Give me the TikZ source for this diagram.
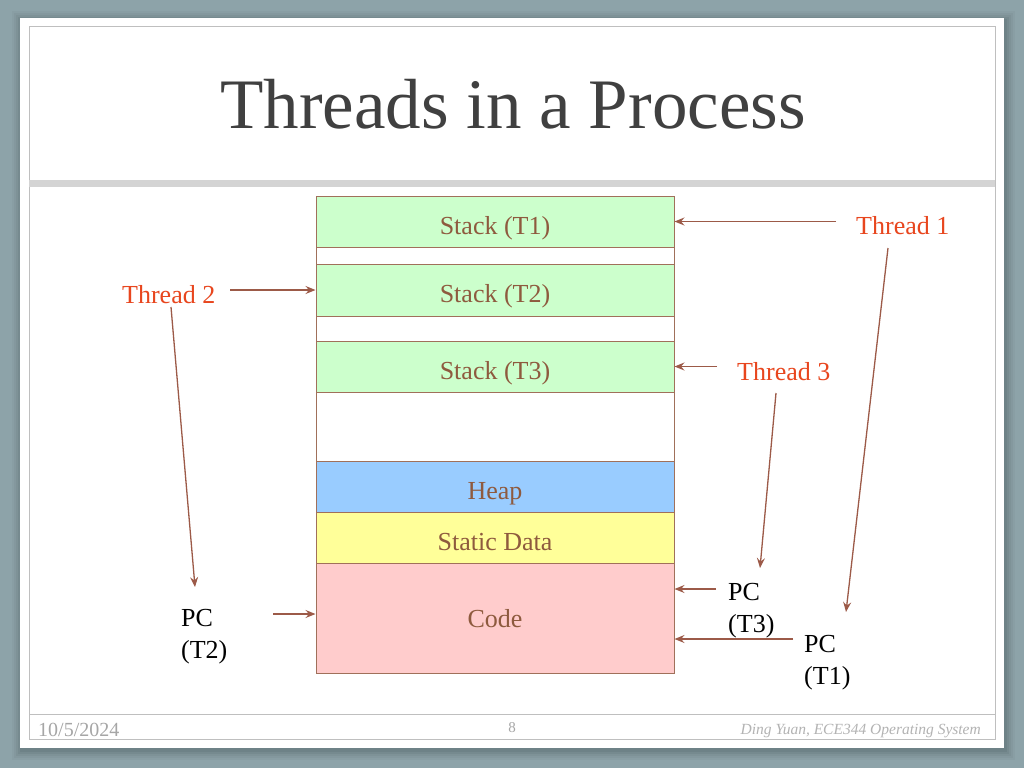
\documentclass[tikz,border=0pt]{standalone}
\usepackage{fontspec}
\setmainfont{Liberation Serif}
\usetikzlibrary{arrows.meta}
\definecolor{bgc}{HTML}{8DA3A9}
\definecolor{shadowc}{HTML}{4A5E63}
\definecolor{framec}{HTML}{BFBFBF}
\definecolor{barc}{HTML}{D4D4D4}
\definecolor{titlec}{HTML}{404040}
\definecolor{boxc}{HTML}{A0705A}
\definecolor{segtext}{HTML}{8E5A3E}
\definecolor{arrc}{HTML}{9C5A48}
\definecolor{threadc}{HTML}{E8461E}
\definecolor{footc}{HTML}{A6A6A6}
\definecolor{stackc}{HTML}{CCFFCC}
\definecolor{heapc}{HTML}{99CCFF}
\definecolor{statc}{HTML}{FFFF99}
\definecolor{codec}{HTML}{FFCCCC}
\tikzset{
  seg/.style={draw=boxc, line width=1pt, minimum width=358pt, inner sep=0pt,
    text=segtext, font=\fontsize{26}{30}\selectfont, text height=31pt, text depth=6pt},
  gapbox/.style={draw=boxc, line width=1pt, fill=white, minimum width=358pt, inner sep=0pt},
  thr/.style={font=\fontsize{26}{32}\selectfont, inner sep=0pt, anchor=base west, text=threadc},
  pclab/.style={font=\fontsize{26}{32}\selectfont, inner sep=0pt, anchor=north west, align=left, text=black},
  arr/.style={draw=arrc, line width=1.3pt, -{Stealth[length=10pt,width=8pt,inset=3.5pt]}},
}
\begin{document}
\begin{tikzpicture}[x=1pt,y=-1pt]
\useasboundingbox (0,0) rectangle (1024,768);
\fill[bgc] (0,0) rectangle (1024,768);
% slide shadow
\foreach \d/\o in {9/0.06,7/0.08,5/0.1,3/0.14,1/0.18}
  \fill[shadowc,opacity=\o] ({20-\d+1},{18-\d+2}) rectangle ({1004+\d+2},{748+\d+3});
\fill[white] (20,18) rectangle (1004,748);
\draw[framec, line width=1pt] (29,27) rectangle (995,739);
\fill[barc] (29,180) rectangle (995,187);
\draw[framec, line width=1pt] (29,714) -- (995,714);
% title
\node[font=\fontsize{71}{80}\selectfont, text=titlec, inner sep=0pt, anchor=base] (title) at (513,128) {Threads in a Process};
% memory segments
\node[seg, fill=stackc, minimum height=51pt] (s1) at (495,221.5) {Stack (T1)};
\node[gapbox, minimum height=17pt] (g1) at (495,255.5) {};
\node[seg, fill=stackc, minimum height=52pt] (s2) at (495,290) {Stack (T2)};
\node[gapbox, minimum height=25pt] (g2) at (495,328.5) {};
\node[seg, fill=stackc, minimum height=51pt] (s3) at (495,366.5) {Stack (T3)};
\node[gapbox, minimum height=69pt] (g3) at (495,426.5) {};
\node[seg, fill=heapc, minimum height=51pt] (heap) at (495,486.5) {Heap};
\node[seg, fill=statc, minimum height=51pt] (stat) at (495,537.5) {Static Data};
\node[seg, fill=codec, minimum height=110pt, text height=24pt, text depth=6pt] (code) at (495,618) {Code};
% labels
\node[thr] (t1) at (856,234) {Thread 1};
\node[thr] (t2) at (122,303) {Thread 2};
\node[thr] (t3) at (737,380) {Thread 3};
\node[pclab] (pc2) at (181,609) {PC\\(T2)};
\node[pclab] (pc3) at (728,583) {PC\\(T3)};
\node[pclab] (pc1) at (804,635) {PC\\(T1)};
% arrows to stacks
\draw[arr] ([xshift=-20pt]t1.base west) coordinate (a1) ++(0,0) (a1 |- s1.east) -- (s1.east);
\draw[arr] ([xshift=108pt]t2.base west) coordinate (a2) ++(0,0) (a2 |- s2.west) -- (s2.west);
\draw[arr] ([xshift=-20pt]t3.base west) coordinate (a3) ++(0,0) (a3 |- s3.east) -- (s3.east);
% threads to PCs
\draw[arr] ([shift={(32,14)}]t1.base west) -- ([shift={(42,-23)}]pc1.north west);
\draw[arr] ([shift={(49,4)}]t2.base west) -- ([shift={(14,-22)}]pc2.north west);
\draw[arr] ([shift={(39,13)}]t3.base west) -- ([shift={(32,-15)}]pc3.north west);
% PCs to code
\draw[arr] ([shift={(92,5)}]pc2.north west) coordinate (b2) -- (code.west |- b2);
\draw[arr] ([shift={(-12,6)}]pc3.north west) coordinate (b3) -- (code.east |- b3);
\draw[arr] ([shift={(-11,4)}]pc1.north west) coordinate (b1) -- (code.east |- b1);
% footer
\node[font=\fontsize{20}{24}\selectfont, text=footc, inner sep=0pt, anchor=base west] (date) at (38,736) {10/5/2024};
\node[font=\fontsize{15}{18}\selectfont, text=footc, inner sep=0pt, anchor=base] (page) at (512,732) {8};
\node[font=\fontsize{15.5}{18}\selectfont\itshape, text=footc!85, inner sep=0pt, anchor=base east] (author) at (981,734) {Ding Yuan, ECE344 Operating System};
\end{tikzpicture}
\end{document}
